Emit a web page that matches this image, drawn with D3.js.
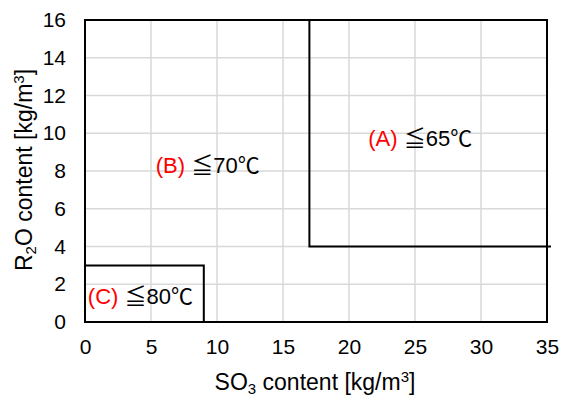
<!DOCTYPE html>
<html>
<head>
<meta charset="utf-8">
<script src="https://cdn.jsdelivr.net/npm/d3@7"></script>
<style>
  body { margin: 0; background: #fff; }
  text { font-family: "Liberation Sans", "Noto Sans CJK JP", sans-serif; }
</style>
</head>
<body>
<div id="chart"></div>
<script>
// data
var xTicks = [0, 5, 10, 15, 20, 25, 30, 35];
var yTicks = [0, 2, 4, 6, 8, 10, 12, 14, 16];
// region boundaries (SO3, R2O)
var boundaryA = [[17, 16], [17, 4], [35.3, 4]];
var boundaryC = [[0, 3], [9, 3], [9, 0]];
var regionLabels = [
  { tag: "(A)", limit: "≦65℃", x: 25.4, y: 9.3 },
  { tag: "(B)", limit: "≦70℃", x: 9.3, y: 7.9 },
  { tag: "(C)", limit: "≦80℃", x: 4.2, y: 0.95 }
];

var svgWidth = 561, svgHeight = 397;
var margin = { top: 20, right: 14, bottom: 75, left: 85 };
var width = svgWidth - margin.left - margin.right;
var height = svgHeight - margin.top - margin.bottom;

var svg = d3.select("#chart").append("svg")
  .attr("width", svgWidth)
  .attr("height", svgHeight);

var g = svg.append("g")
  .attr("transform", `translate(${margin.left}, ${margin.top})`);

var x = d3.scaleLinear().domain([0, 35]).range([0, width]);
var y = d3.scaleLinear().domain([0, 16]).range([height, 0]);

// gridlines
g.selectAll(".vgrid").data(xTicks).enter().append("line")
  .attr("x1", d => x(d)).attr("x2", d => x(d))
  .attr("y1", 0).attr("y2", height)
  .attr("stroke", "#d9d9d9").attr("stroke-width", 1.5);
g.selectAll(".hgrid").data(yTicks).enter().append("line")
  .attr("y1", d => y(d)).attr("y2", d => y(d))
  .attr("x1", 0).attr("x2", width)
  .attr("stroke", "#d9d9d9").attr("stroke-width", 1.5);

// axes (labels only)
var xAxis = g.append("g")
  .attr("transform", `translate(0, ${height})`)
  .call(d3.axisBottom(x).tickValues(xTicks).tickSize(0).tickPadding(17));
var yAxis = g.append("g")
  .call(d3.axisLeft(y).tickValues(yTicks).tickSize(0).tickPadding(19));
[xAxis, yAxis].forEach(function(a) {
  a.select(".domain").remove();
  a.selectAll("text").attr("font-size", 21).attr("fill", "#000")
    .style("font-family", "\"Liberation Sans Narrow\", \"Liberation Sans\", sans-serif");
});

// plot border
g.append("rect")
  .attr("x", 0).attr("y", 0)
  .attr("width", width).attr("height", height)
  .attr("fill", "none").attr("stroke", "#000").attr("stroke-width", 2);

// region boundaries
var line = d3.line().x(d => x(d[0])).y(d => y(d[1]));
[boundaryA, boundaryC].forEach(function(b) {
  g.append("path").attr("d", line(b))
    .attr("fill", "none").attr("stroke", "#000").attr("stroke-width", 2);
});

// region labels
var lbl = g.selectAll(".region").data(regionLabels).enter().append("text")
  .attr("x", d => x(d.x)).attr("y", d => y(d.y))
  .attr("text-anchor", "middle")
  .attr("font-size", 22);
lbl.append("tspan").attr("fill", "#ff0000").text(d => d.tag + " ");
lbl.append("tspan").attr("fill", "#000").text(d => d.limit);

// axis titles
var xt = svg.append("text")
  .attr("x", margin.left + width / 2 - 1)
  .attr("y", 390)
  .attr("text-anchor", "middle")
  .attr("font-size", 23);
xt.append("tspan").text("SO");
xt.append("tspan").attr("font-size", 15).attr("dy", 4).text("3");
xt.append("tspan").attr("dy", -4).text(" content [kg/m");
xt.append("tspan").attr("font-size", 15).attr("dy", -8).text("3");
xt.append("tspan").attr("dy", 8).text("]");

var yt = svg.append("text")
  .attr("transform", `translate(32, ${margin.top + height / 2 - 1}) rotate(-90)`)
  .attr("text-anchor", "middle")
  .attr("font-size", 23);
yt.append("tspan").text("R");
yt.append("tspan").attr("font-size", 15).attr("dy", 4).text("2");
yt.append("tspan").attr("dy", -4).text("O content [kg/m");
yt.append("tspan").attr("font-size", 15).attr("dy", -8).text("3");
yt.append("tspan").attr("dy", 8).text("]");
</script>
</body>
</html>
